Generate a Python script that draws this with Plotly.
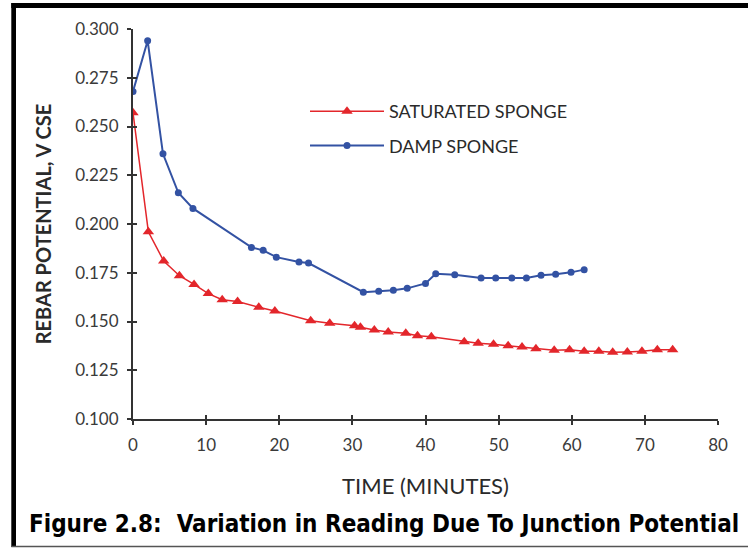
import plotly.graph_objects as go

# ---- data ----
sat_time = [0, 2.1, 4.2, 6.35, 8.35, 10.3, 12.2, 14.3, 17.2, 19.4, 24.3, 26.9, 30.3, 31.1,
            33.0, 34.9, 37.3, 38.9, 40.8, 45.3, 47.2, 49.3, 51.3, 53.2, 55.1, 57.6, 59.7,
            61.7, 63.7, 65.6, 67.6, 69.6, 71.7, 73.8]
sat_pot = [0.257, 0.196, 0.181, 0.1735, 0.169, 0.1643, 0.1612, 0.1602, 0.1573, 0.1554, 0.1504,
           0.1491, 0.1478, 0.147, 0.1456, 0.1446, 0.1440, 0.1427, 0.1422, 0.1396, 0.1388,
           0.1383, 0.1376, 0.1369, 0.136, 0.1352, 0.1355, 0.1347, 0.1347, 0.1342, 0.1344,
           0.1347, 0.1355, 0.1355]

damp_time = [0, 2.0, 4.1, 6.2, 8.2, 16.2, 17.8, 19.6, 22.7, 24.0, 31.5, 33.6, 35.6, 37.5,
             40.0, 41.4, 44.0, 47.6, 49.6, 51.8, 53.8, 55.8, 57.8, 59.9, 61.7]
damp_pot = [0.268, 0.294, 0.236, 0.216, 0.208, 0.188, 0.1865, 0.183, 0.1805, 0.180, 0.165,
            0.1655, 0.166, 0.167, 0.1695, 0.1745, 0.174, 0.1723, 0.1723, 0.1723, 0.1723,
            0.1737, 0.1742, 0.1752, 0.1766]

x_ticks = [0, 10, 20, 30, 40, 50, 60, 70, 80]
y_ticks = [0.100, 0.125, 0.150, 0.175, 0.200, 0.225, 0.250, 0.275, 0.300]
y_tick_labels = ["%.3f" % v for v in y_ticks]

series_names = ["SATURATED SPONGE", "DAMP SPONGE"]
x_title = "TIME (MINUTES)"
y_title = "REBAR POTENTIAL, V CSE"
caption = "Figure 2.8:  Variation in Reading Due To Junction Potential"

# ---- layout geometry ----
W, H = 748, 548
ML, MR, MT, MB = 133, 30, 29, 129
PW, PH = W - ML - MR, H - MT - MB


def px(x):
    return (x - ML) / PW


def py(y):
    return (H - MB - y) / PH


RED = "#e3262b"
BLUE = "#3352a3"
AX = "#333333"
TXT = "#2a2a2a"
FONT = "Lato"

fig = go.Figure()
fig.add_trace(go.Scatter(
    x=sat_time, y=sat_pot, name=series_names[0], mode="lines+markers",
    legendgroup="g1",
    line=dict(color=RED, width=1.5),
    marker=dict(symbol="triangle-up", size=10, color=RED),
))
fig.add_trace(go.Scatter(
    x=damp_time, y=damp_pot, name=series_names[1], mode="lines+markers",
    legendgroup="g2",
    line=dict(color=BLUE, width=2),
    marker=dict(symbol="circle", size=7, color=BLUE),
))
# invisible trace on overlay axes for inward tick halves
fig.add_trace(go.Scatter(x=[None], y=[None], xaxis="x2", yaxis="y2",
                         showlegend=False, hoverinfo="skip"))

fig.update_layout(
    width=W, height=H,
    margin=dict(l=ML, r=MR, t=MT, b=MB, pad=0),
    paper_bgcolor="white", plot_bgcolor="white",
    font=dict(family=FONT, color=TXT),
    xaxis=dict(
        range=[0, 80], tickvals=x_ticks, ticks="outside", ticklen=4, tickwidth=1.5,
        tickcolor=AX, showline=True, linecolor=AX, linewidth=2, showgrid=False,
        zeroline=False, tickfont=dict(size=17, color="#3a3a3a", family=FONT),
        ticklabelstandoff=6,
        title=dict(text=x_title, font=dict(size=22, color=TXT, family=FONT), standoff=24),
    ),
    yaxis=dict(
        range=[0.1, 0.3], tickvals=y_ticks, ticktext=y_tick_labels, ticks="outside",
        ticklen=4, tickwidth=1.5, tickcolor=AX, showline=True, linecolor=AX, linewidth=2,
        showgrid=False, zeroline=False, ticklabelstandoff=5,
        tickfont=dict(size=17, color="#3a3a3a", family=FONT),
        title=dict(text="<b>" + y_title + "</b>", font=dict(size=20, color=TXT, family=FONT),
                   standoff=18),
    ),
    xaxis2=dict(range=[0, 80], tickvals=x_ticks, ticks="inside", ticklen=4, tickwidth=1.5,
                tickcolor=AX, showticklabels=False, showline=False, showgrid=False,
                zeroline=False, overlaying="x", anchor="y2"),
    yaxis2=dict(range=[0.1, 0.3], tickvals=y_ticks, ticks="inside", ticklen=4, tickwidth=1.5,
                tickcolor=AX, showticklabels=False, showline=False, showgrid=False,
                zeroline=False, overlaying="y", anchor="x2"),
    showlegend=True,
    legend=dict(
        x=px(305), y=py(93), xanchor="left", yanchor="top",
        font=dict(size=18, color=TXT, family=FONT),
        bgcolor="rgba(0,0,0,0)", itemwidth=74, traceorder="grouped",
        tracegroupgap=8,
    ),
)

# frame around the figure (decoration)
fig.add_shape(type="rect", xref="paper", yref="paper", x0=px(11.3), x1=px(16), y0=py(3),
              y1=py(547), fillcolor="black", line=dict(width=0), layer="above")
fig.add_shape(type="rect", xref="paper", yref="paper", x0=px(11.3), x1=px(748), y0=py(3),
              y1=py(8), fillcolor="black", line=dict(width=0), layer="above")
fig.add_shape(type="line", xref="paper", yref="paper", x0=px(11.3), x1=px(748), y0=py(546.5),
              y1=py(546.5), line=dict(color="#555555", width=1.5), layer="above")

fig.add_annotation(
    xref="paper", yref="paper", x=px(384), y=py(524), xanchor="center", yanchor="middle",
    text="<b>" + caption + "</b>", showarrow=False,
    font=dict(size=24, color="black", family="DejaVu Sans Condensed"),
)

fig.write_html("out.html", config={"displayModeBar": False},
               post_script="document.body.style.margin='0';")
